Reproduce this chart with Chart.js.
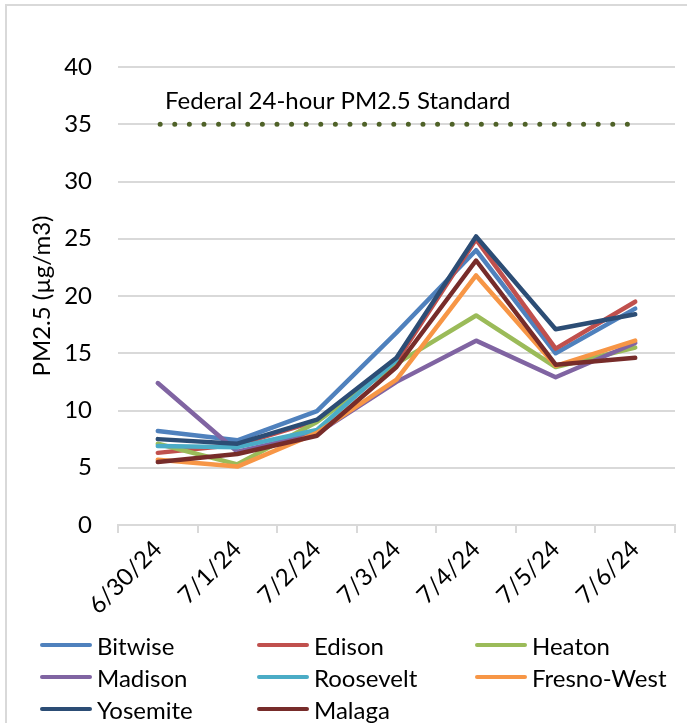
<!DOCTYPE html>
<html>
<head>
<meta charset="utf-8">
<script src="https://cdn.jsdelivr.net/npm/chart.js@4.4.1/dist/chart.umd.min.js"></script>
<style>
  html, body { margin: 0; padding: 0; background: #fff; overflow: hidden; }
  body { width: 687px; height: 723px; position: relative; font-family: Lato, "Liberation Sans", sans-serif; }
  #myChart { position: absolute; left: 0; top: 0; }
  #frame { position: absolute; left: 5px; top: 4px; width: 720px; height: 760px;
           border-top: 2px solid #d9d9d9; border-left: 2px solid #d9d9d9; pointer-events: none; }
  #legend { position: absolute; left: 40px; top: 629px; display: grid;
            grid-template-columns: 217px 218px 200px; grid-auto-rows: 32px; }
  .item { display: flex; align-items: center; font-size: 24px; color: #000; white-space: nowrap; }
  .swatch { display: inline-block; width: 52px; height: 4px; border-radius: 2px; margin-right: 5px; }
</style>
</head>
<body>
<canvas id="myChart" width="687" height="625"></canvas>
<div id="frame"></div>
<div id="legend"></div>
<script>
// dates on the x axis
const dates = ['6/30/24', '7/1/24', '7/2/24', '7/3/24', '7/4/24', '7/5/24', '7/6/24'];

// daily PM2.5 by site (µg/m3)
const bitwise    = [8.2, 7.4, 9.95, 16.8, 24.0, 15.0, 18.9];
const edison     = [6.3, 7.0, 9.1, 14.3, 24.95, 15.4, 19.5];
const heaton     = [7.1, 5.3, 9.0, 14.1, 18.3, 13.8, 15.5];
const madison    = [12.4, 6.4, 8.0, 12.5, 16.1, 12.9, 15.9];
const roosevelt  = [6.9, 6.8, 8.3, 14.4, null, null, null];
const fresnoWest = [5.7, 5.1, 8.05, 12.7, 21.8, 13.9, 16.1];
const yosemite   = [7.5, 7.1, 9.2, 14.6, 25.2, 17.1, 18.4];
const malaga     = [5.5, 6.2, 7.8, 13.8, 23.1, 14.0, 14.6];

const siteNames = ['Bitwise', 'Edison', 'Heaton', 'Madison', 'Roosevelt', 'Fresno-West', 'Yosemite', 'Malaga'];
const siteColors = ['#4F81BD', '#C0504D', '#9BBB59', '#8064A2', '#4BACC6', '#F79646', '#2C4D75', '#772C2A'];
const siteValues = [bitwise, edison, heaton, madison, roosevelt, fresnoWest, yosemite, malaga];

// federal standard line, drawn on a hidden 0..7 axis
const standardValue = 35;
const standardFrom = 0.53;
const standardTo = 6.41;
const standardLabel = 'Federal 24-hour PM2.5 Standard';

const FONT = 'Lato, "Liberation Sans", sans-serif';

const datasets = siteNames.map(function (name, i) {
  return {
    label: name,
    data: siteValues[i],
    borderColor: siteColors[i],
    backgroundColor: siteColors[i],
    borderWidth: 4.5,
    borderCapStyle: 'round',
    borderJoinStyle: 'round',
    pointRadius: 0,
    tension: 0,
    order: 8 - i   // later series on top, like Excel
  };
});

datasets.push({
  label: 'standard',
  data: [{x: standardFrom, y: standardValue}, {x: standardTo, y: standardValue}],
  xAxisID: 'x2',
  borderColor: '#4F6228',
  borderWidth: 5,
  borderCapStyle: 'round',
  borderDash: [0, 14.6],
  pointRadius: 0,
  order: 0
});

// text above the standard line
const standardText = {
  id: 'standardText',
  afterDatasetsDraw(chart) {
    const ctx = chart.ctx;
    const x = chart.scales.x2.getPixelForValue(0.59);
    const y = chart.scales.y.getPixelForValue(37.0);
    ctx.save();
    ctx.font = '24px ' + FONT;
    ctx.fillStyle = '#000';
    ctx.textBaseline = 'middle';
    ctx.textAlign = 'left';
    ctx.fillText(standardLabel, x, y);
    ctx.restore();
  }
};

const ctx = document.getElementById('myChart').getContext('2d');
const myChart = new Chart(ctx, {
  type: 'line',
  data: { labels: dates, datasets: datasets },
  plugins: [standardText],
  options: {
    responsive: false,
    animation: false,
    devicePixelRatio: 1,
    layout: { padding: { left: 24, top: 67, right: 12, bottom: 0 } },
    plugins: { legend: { display: false }, tooltip: { enabled: false } },
    scales: {
      x: {
        type: 'category',
        offset: true,
        grid: { offset: true, drawOnChartArea: false, drawTicks: true, tickLength: 8, color: '#d9d9d9', lineWidth: 2 },
        border: { color: '#d9d9d9', width: 2 },
        ticks: { maxRotation: 45, minRotation: 45, color: '#000', font: { family: FONT, size: 24 }, padding: 2 },
        afterFit: function (scale) { scale.height = 100; }
      },
      x2: { type: 'linear', min: 0, max: 7, display: false },
      y: {
        min: 0,
        max: 40,
        ticks: { stepSize: 5, color: '#000', font: { family: FONT, size: 24 }, padding: 26 },
        grid: { color: '#d9d9d9', lineWidth: 2, drawTicks: false },
        border: { display: false },
        title: { display: true, text: 'PM2.5 (µg/m3)', color: '#000', font: { family: FONT, size: 24 } },
        afterFit: function (scale) { scale.width = 94; }
      }
    }
  }
});

// legend in three columns
const legend = document.getElementById('legend');
siteNames.forEach(function (name, i) {
  const item = document.createElement('div');
  item.className = 'item';
  const sw = document.createElement('span');
  sw.className = 'swatch';
  sw.style.background = siteColors[i];
  item.appendChild(sw);
  item.appendChild(document.createTextNode(name));
  legend.appendChild(item);
});
</script>
</body>
</html>
